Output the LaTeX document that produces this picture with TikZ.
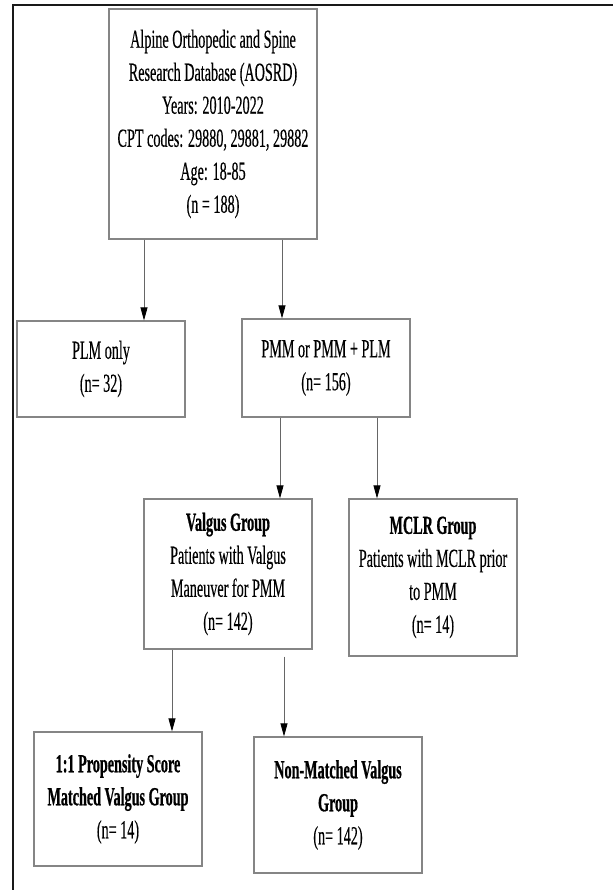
\documentclass[tikz,border=0pt]{standalone}
\usepackage{fontspec}
\setmainfont{Liberation Serif}[FakeStretch=0.545, UprightFeatures={FakeBold=0.3}, BoldFeatures={FakeBold=0.6}]
\usetikzlibrary{arrows.meta}
\tikzset{
  box/.style={draw=black!48, line width=1.2pt, inner sep=0pt, align=center,
    font=\fontsize{26}{33}\selectfont},
  arr/.style={draw=black!60, line width=0.8pt,
    -{Triangle[length=13pt,width=7pt,color=black]}},
  frame/.style={draw=black!90, line width=2pt}
}
\begin{document}
\begin{tikzpicture}[x=1pt,y=-1pt]
\useasboundingbox (0,0) rectangle (613,890);
\fill[white] (0,0) rectangle (613,890);
\coordinate (fa) at (13,890);
\coordinate (fb) at (13,5);
\coordinate (fc) at (613,5);
\draw[frame] (fa) -- (fb) -- (fc);

\node[box, minimum width=208pt, minimum height=230pt] (top) at (213,124)
  {Alpine Orthopedic and Spine\\Research Database (AOSRD)\\Years: 2010-2022\\CPT codes: 29880, 29881, 29882\\Age: 18-85\\(n = 188)};
\node[box, minimum width=168pt, minimum height=96pt] (plm) at (101,369)
  {PLM only\\(n= 32)};
\node[box, minimum width=168pt, minimum height=98pt] (pmm) at (326,368)
  {PMM or PMM + PLM\\(n= 156)};
\node[box, minimum width=168pt, minimum height=150pt] (valgus) at (228,574)
  {\textbf{Valgus Group}\\Patients with Valgus\\Maneuver for PMM\\(n= 142)};
\node[box, minimum width=168pt, minimum height=157pt] (mclr) at (433,577.5)
  {\textbf{MCLR Group}\\Patients with MCLR prior\\to PMM\\(n= 14)};
\node[box, minimum width=168pt, minimum height=134pt] (prop) at (118,799)
  {\textbf{1:1 Propensity Score}\\\textbf{Matched Valgus Group}\\(n= 14)};
\node[box, minimum width=168pt, minimum height=136pt] (nonm) at (338,805)
  {\textbf{Non-Matched Valgus}\\\textbf{Group}\\(n= 142)};

\coordinate (a1) at (144,0);
\coordinate (a2) at (282,0);
\coordinate (a3) at (280,0);
\coordinate (a4) at (377,0);
\coordinate (a5) at (172,0);
\coordinate (a6) at (284,0);

\draw[arr] (top.south -| a1) -- (plm.north -| a1);
\draw[arr] (top.south -| a2) -- (pmm.north -| a2);
\draw[arr] (pmm.south -| a3) -- (valgus.north -| a3);
\draw[arr] (pmm.south -| a4) -- (mclr.north -| a4);
\draw[arr] (valgus.south -| a5) -- (prop.north -| a5);
\draw[arr] ([yshift=-7pt]valgus.south -| a6) -- (nonm.north -| a6);
\end{tikzpicture}
\end{document}
